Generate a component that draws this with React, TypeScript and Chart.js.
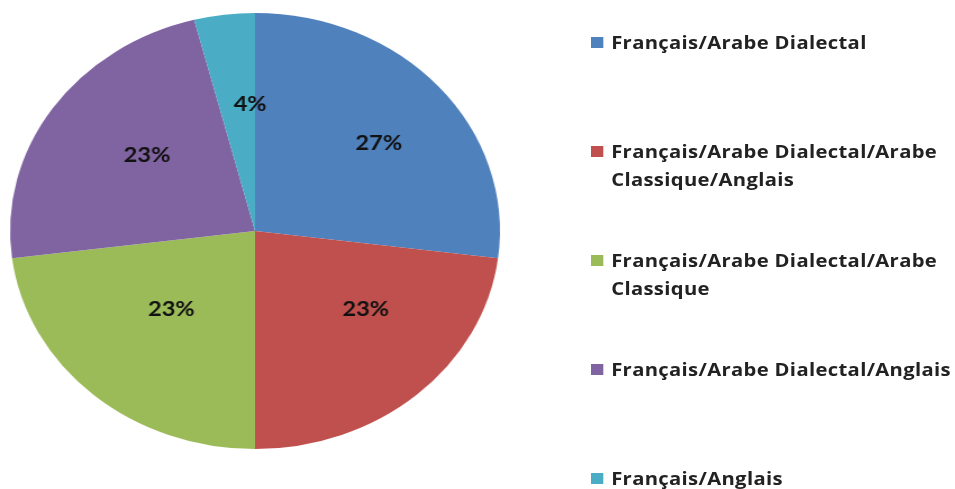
import React, { useEffect, useRef } from "react";
import { Chart, registerables } from "chart.js";

Chart.register(...registerables);

const CATEGORIES = [
  "Français/Arabe Dialectal",
  "Français/Arabe Dialectal/Arabe Classique/Anglais",
  "Français/Arabe Dialectal/Arabe Classique",
  "Français/Arabe Dialectal/Anglais",
  "Français/Anglais",
];
const VALUES = [27, 23, 23, 23, 4];
const COLORS = ["#4F81BD", "#C0504D", "#9BBB59", "#8064A2", "#4BACC6"];

const STRETCH = 1.1235;
const W = 850;
const H = 489;

const labelPlugin = {
  id: "sliceLabels",
  afterDatasetsDraw(chart: any) {
    const ctx = chart.ctx;
    const meta = chart.getDatasetMeta(0);
    const data = chart.data.datasets[0].data as number[];
    const total = data.reduce((a, b) => a + b, 0);
    ctx.save();
    ctx.font = "bold 21px Lato";
    ctx.fillStyle = "#111";
    ctx.textAlign = "center";
    ctx.textBaseline = "middle";
    meta.data.forEach((arc: any, i: number) => {
      const p = arc.getProps(["x", "y", "startAngle", "endAngle", "outerRadius"], true);
      const mid = (p.startAngle + p.endAngle) / 2;
      const rx = p.outerRadius * 0.6;
      const ry = p.outerRadius * 0.54;
      ctx.fillText(
        Math.round((data[i] / total) * 100) + "%",
        p.x + 12 + Math.cos(mid) * rx,
        p.y - 10 + Math.sin(mid) * ry
      );
    });
    ctx.restore();
  },
};

export default function App() {
  const ref = useRef<HTMLCanvasElement | null>(null);
  useEffect(() => {
    if (!ref.current) return;
    const chart = new Chart(ref.current, {
      type: "pie",
      data: {
        labels: CATEGORIES,
        datasets: [
          {
            data: VALUES,
            backgroundColor: COLORS,
            borderWidth: 0,
          },
        ],
      },
      options: {
        responsive: false,
        animation: false,
        layout: { padding: { left: 9, right: 405, top: 13, bottom: 40 } },
        plugins: {
          legend: { display: false },
          tooltip: { enabled: false },
        },
      },
      plugins: [labelPlugin],
    });
    return () => chart.destroy();
  }, []);

  return (
    <div
      style={{
        position: "absolute",
        left: 0,
        top: 0,
        width: 955,
        height: 489,
        overflow: "hidden",
        background: "#fff",
      }}
    >
      <div
        style={{
          position: "absolute",
          left: 0,
          top: 0,
          width: W,
          height: H,
          transform: `scaleX(${STRETCH})`,
          transformOrigin: "0 0",
        }}
      >
        <canvas ref={ref} width={W} height={H} style={{ display: "block" }} />
        {CATEGORIES.map((c, i) => (
          <div
            key={c}
            style={{
              position: "absolute",
              left: 526,
              top: 28 + i * 109,
              width: 330,
              display: "flex",
              alignItems: "flex-start",
            }}
          >
            <div
              style={{
                width: 11,
                height: 11,
                marginTop: 8.5,
                background: COLORS[i],
                flex: "0 0 auto",
              }}
            />
            <div
              style={{
                marginLeft: 7,
                width: 312,
                font: "bold 18px 'Open Sans'",
                letterSpacing: "0.3px",
                lineHeight: "28px",
                color: "#222",
              }}
            >
              {c}
            </div>
          </div>
        ))}
      </div>
    </div>
  );
}
